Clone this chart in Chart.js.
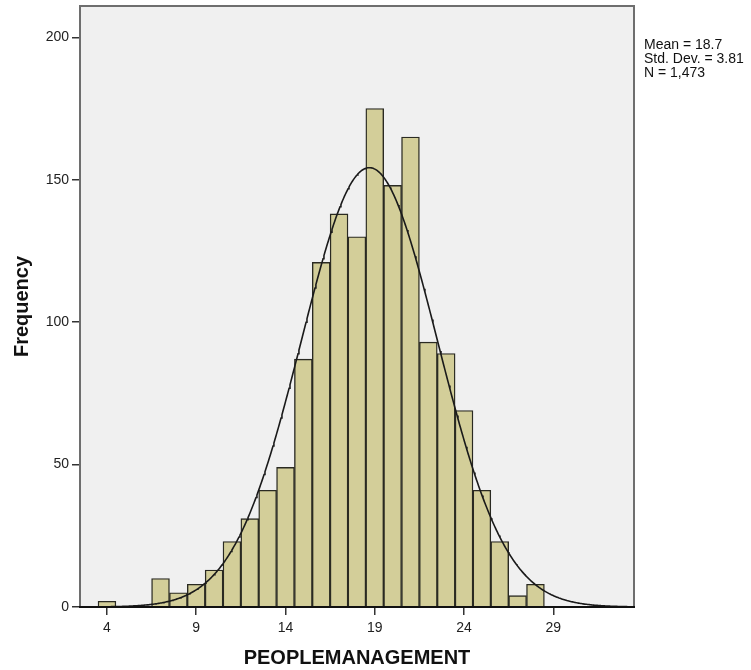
<!DOCTYPE html>
<html>
<head>
<meta charset="utf-8">
<script src="https://cdn.jsdelivr.net/npm/chart.js@4"></script>
<style>
  html, body { margin: 0; padding: 0; background: #ffffff; }
  #wrap { width: 751px; height: 670px; }
  canvas { display: block; }
</style>
</head>
<body>
<div id="wrap"><canvas id="c" width="751" height="670"></canvas></div>
<script>
// ---- data ----
const binCenters = [4, 7, 8, 9, 10, 11, 12, 13, 14, 15, 16, 17, 18, 19, 20, 21, 22, 23, 24, 25, 26, 27, 28];
const frequencies = [2, 10, 5, 8, 13, 23, 31, 41, 49, 87, 121, 138, 130, 175, 148, 165, 93, 89, 69, 41, 23, 4, 8];
const xTickValues = [4, 9, 14, 19, 24, 29];
const yTickValues = [0, 50, 100, 150, 200];
const statMean = 18.7;
const statStdDev = 3.81;
const statN = 1473;
const statLines = ["Mean = 18.7", "Std. Dev. = 3.81", "N = 1,473"];
const xTitle = "PEOPLEMANAGEMENT";
const yTitle = "Frequency";

// axis extent
const xMin = 2.49, xMax = 33.52, yMax = 211;

// Fitted normal curve defined by the reported statistics (bin width 1)
const curve = [];
for (let i = 0; i <= 620; i++) {
  const x = xMin + (xMax - xMin) * i / 620;
  const z = (x - statMean) / statStdDev;
  curve.push({ x: x, y: statN * Math.exp(-0.5 * z * z) / (statStdDev * Math.sqrt(2 * Math.PI)) });
}

const barData = binCenters.map((c, i) => ({ x: c, y: frequencies[i] }));

const FONT = "'Liberation Sans', Arial, sans-serif";

const framePlugin = {
  id: 'frame',
  beforeDatasetsDraw(chart) {
    const { ctx, chartArea: a } = chart;
    ctx.save();
    ctx.fillStyle = '#f0f0f0';
    ctx.fillRect(a.left, a.top, a.right - a.left, a.bottom - a.top);
    ctx.restore();
  },
  afterDatasetsDraw(chart) {
    const { ctx, chartArea: a } = chart;
    ctx.save();
    ctx.strokeStyle = '#6e6e6e';
    ctx.lineWidth = 2;
    ctx.beginPath();
    ctx.moveTo(a.left, a.bottom);
    ctx.lineTo(a.left, a.top);
    ctx.lineTo(a.right, a.top);
    ctx.lineTo(a.right, a.bottom);
    ctx.stroke();
    ctx.strokeStyle = '#111111';
    ctx.lineWidth = 2;
    ctx.beginPath();
    ctx.moveTo(a.left - 1, a.bottom);
    ctx.lineTo(a.right + 1, a.bottom);
    ctx.stroke();
    // statistics box text
    ctx.fillStyle = '#111111';
    ctx.font = '14px ' + FONT;
    ctx.textAlign = 'left';
    ctx.textBaseline = 'alphabetic';
    const baseY = [49, 63, 77];
    statLines.forEach((t, i) => ctx.fillText(t, a.right + 10, baseY[i]));
    ctx.restore();
  }
};

new Chart(document.getElementById('c'), {
  type: 'bar',
  data: {
    datasets: [
      {
        type: 'line',
        data: curve,
        borderColor: '#1a1a1a',
        borderWidth: 1.6,
        pointRadius: 0,
        fill: false,
        tension: 0,
        order: 0
      },
      {
        type: 'bar',
        data: barData,
        backgroundColor: 'rgb(211,206,153)',
        borderColor: '#2a2a22',
        borderWidth: 1.4,
        borderSkipped: 'start',
        barPercentage: 1.0,
        categoryPercentage: 1.0,
        order: 1
      }
    ]
  },
  options: {
    responsive: false,
    animation: false,
    devicePixelRatio: 1,
    layout: { padding: { top: 6, right: 117, bottom: 0, left: 0 } },
    plugins: { legend: { display: false }, tooltip: { enabled: false } },
    scales: {
      x: {
        type: 'linear',
        offset: false,
        min: xMin,
        max: xMax,
        afterBuildTicks: s => { s.ticks = xTickValues.map(v => ({ value: v })); },
        afterFit: s => { s.height = 63; s.paddingLeft = 0; s.paddingRight = 0; },
        grid: { offset: false, drawOnChartArea: false, drawTicks: true, tickLength: 8, color: '#333333', lineWidth: 1.5 },
        border: { display: false },
        ticks: {
          autoSkip: false,
          maxRotation: 0,
          padding: 5,
          color: '#222222',
          font: { family: FONT, size: 14 },
          callback: v => String(v)
        },
        title: {
          display: true,
          text: xTitle,
          color: '#111111',
          font: { family: FONT, size: 20, weight: 'bold' },
          padding: { top: 0, bottom: 0 }
        }
      },
      y: {
        type: 'linear',
        min: 0,
        max: yMax,
        afterBuildTicks: s => { s.ticks = yTickValues.map(v => ({ value: v })); },
        afterFit: s => { s.width = 80; s.paddingTop = 0; s.paddingBottom = 0; },
        grid: { drawOnChartArea: false, drawTicks: true, tickLength: 8, color: '#333333', lineWidth: 1.5 },
        border: { display: false },
        ticks: {
          padding: 3,
          color: '#222222',
          font: { family: FONT, size: 14 },
          callback: v => String(v)
        },
        title: {
          display: true,
          text: yTitle,
          color: '#111111',
          font: { family: FONT, size: 20, weight: 'bold' },
          padding: { top: 10, bottom: 0 }
        }
      }
    }
  },
  plugins: [framePlugin]
});
</script>
</body>
</html>
